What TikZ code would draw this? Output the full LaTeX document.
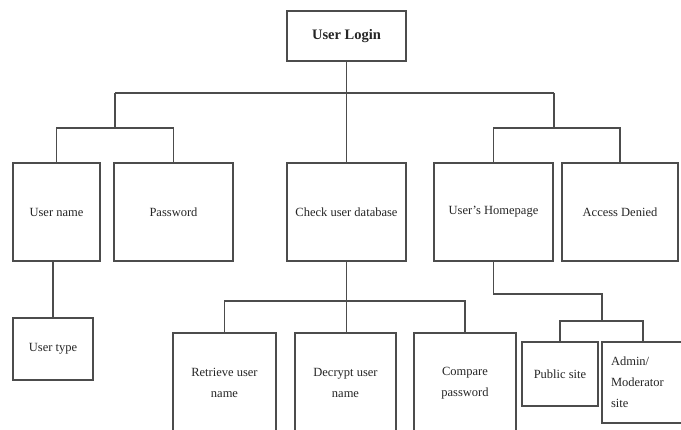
\documentclass[tikz,border=0pt]{standalone}
\usepackage{fontspec}
\setmainfont{Liberation Serif}
\begin{document}
\begin{tikzpicture}[x=1pt,y=-1pt,
  box/.style={draw=black!70, line width=1.3pt, rectangle, inner sep=2pt,
    align=center, text=black!85, font=\fontsize{12.5}{21}\selectfont},
  link/.style={draw=black!70, line width=1.3pt}]
\useasboundingbox (0,0) rectangle (681,429);
\clip (0,0) rectangle (681,429);
\fill[white] (0,0) rectangle (681,429);

% root
\node[box, minimum width=119pt, minimum height=50pt, font=\fontsize{14.5}{16}\selectfont\bfseries]
  (login) at (346.5,36) {User Login};

% second level
\node[box, minimum width=87pt,  minimum height=98pt] (uname)  at (56.5,212)  {User name};
\node[box, minimum width=119pt, minimum height=98pt] (pass)   at (173.5,212) {Password};
\node[box, minimum width=119pt, minimum height=98pt] (check)  at (346.5,212) {Check user database};
\node[box, minimum width=119pt, minimum height=98pt] (home)   at (493.5,212) {User's Homepage};
\node[box, minimum width=116pt, minimum height=98pt] (denied) at (620,212)   {Access Denied};

% third level
\node[box, minimum width=80pt,  minimum height=62pt] (utype)    at (53,349)    {User type};
\node[box, minimum width=103pt, minimum height=100pt] (retrieve) at (224.5,383) {Retrieve user\\name};
\node[box, minimum width=101pt, minimum height=100pt] (decrypt)  at (345.5,383) {Decrypt user\\name};
\node[box, minimum width=102pt, minimum height=100pt] (compare)  at (465,383)   {Compare\\password};
\node[box, minimum width=76pt,  minimum height=64pt] (public)   at (560,374)   {Public site};
\node[box, minimum width=98pt,  minimum height=81pt, text width=80pt, align=left, inner sep=0pt]
  (admin) at (651,382.5) {Admin/\\Moderator\\site};

% junction points of the tree
\coordinate (tl) at (115,93);
\coordinate (tr) at (554,93);
\coordinate (cl) at (115,128);
\coordinate (cr) at (554,128);
\coordinate (cb) at (346,301);
\coordinate (h1) at (602,294);
\coordinate (h2) at (602,321);
\coordinate (adm) at (643,342);

% connectors
\draw[link] (login.south) -- (check.north);
\draw[link] (tl) -- (tr);
\draw[link] (tl) -- (cl);
\draw[link] (tr) -- (cr);
\draw[link] (uname.north) |- (cl) -| (pass.north);
\draw[link] (home.north) |- (cr) -| (denied.north);
\draw[link] (utype.north) -- (utype.north |- uname.south);
\draw[link] (check.south) -- (check.south |- decrypt.north);
\draw[link] (retrieve.north) |- (cb) -| (compare.north);
\draw[link] (home.south) |- (h1) -- (h2);
\draw[link] (public.north) |- (h2) -| (adm);
\end{tikzpicture}
\end{document}
